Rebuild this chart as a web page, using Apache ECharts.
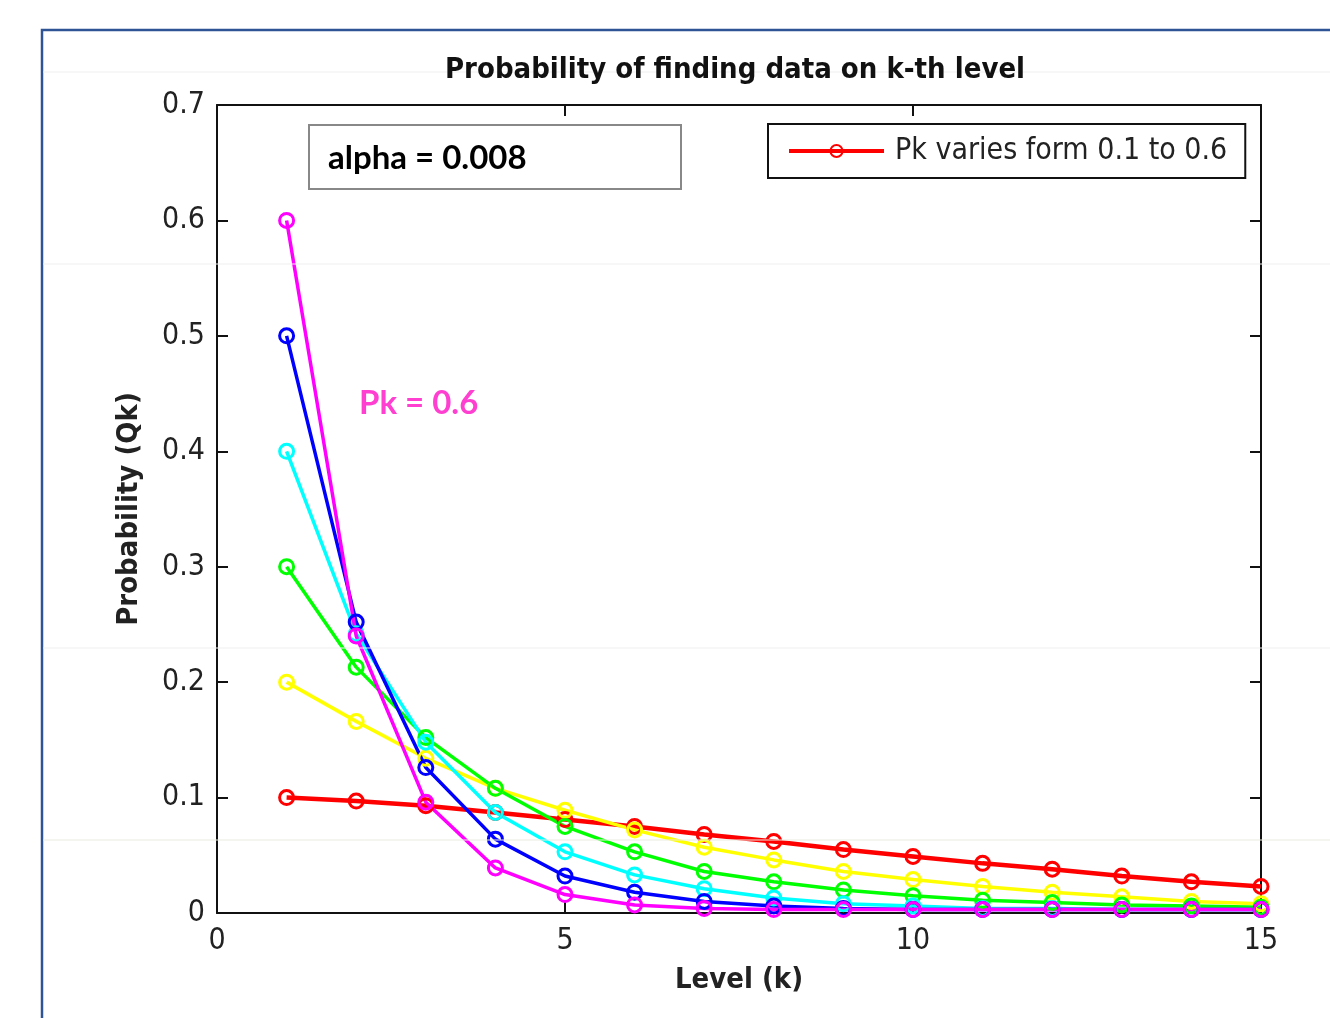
<!DOCTYPE html>
<html>
<head>
<meta charset="utf-8">
<script src="https://cdn.jsdelivr.net/npm/echarts@6/dist/echarts.min.js"></script>
<style>
  html, body { margin: 0; padding: 0; background: #fff; }
  #main { width: 1330px; height: 1018px; }
</style>
</head>
<body>
<div id="main"></div>
<script>
  // level k on the x axis
  var levels = [1, 2, 3, 4, 5, 6, 7, 8, 9, 10, 11, 12, 13, 14, 15];

  // Qk, one array per Pk
  var pk01 = [0.100, 0.097, 0.093, 0.087, 0.081, 0.075, 0.068, 0.062, 0.055, 0.049, 0.043, 0.038, 0.032, 0.027, 0.023];
  var pk02 = [0.200, 0.166, 0.134, 0.108, 0.089, 0.072, 0.057, 0.046, 0.036, 0.029, 0.023, 0.018, 0.014, 0.010, 0.008];
  var pk03 = [0.300, 0.213, 0.152, 0.108, 0.075, 0.053, 0.036, 0.027, 0.020, 0.015, 0.011, 0.009, 0.007, 0.006, 0.005];
  var pk04 = [0.400, 0.242, 0.148, 0.087, 0.053, 0.033, 0.021, 0.013, 0.008, 0.006, 0.004, 0.004, 0.003, 0.003, 0.003];
  var pk05 = [0.500, 0.252, 0.126, 0.064, 0.032, 0.018, 0.010, 0.006, 0.004, 0.003, 0.003, 0.003, 0.003, 0.003, 0.003];
  var pk06 = [0.600, 0.240, 0.096, 0.039, 0.016, 0.007, 0.004, 0.003, 0.003, 0.003, 0.003, 0.003, 0.003, 0.003, 0.003];

  var legendName = 'Pk varies form 0.1 to 0.6';
  var titleText = 'Probability of finding data on k-th level';
  var xName = 'Level (k)';
  var yName = 'Probability (Qk)';
  var alphaText = 'alpha = 0.008';
  var noteText = 'Pk = 0.6';

  var narrow = '"DejaVu Sans Condensed", "Liberation Sans Narrow", "DejaVu Sans", sans-serif';
  var boxFont = 'Lato, "Open Sans", sans-serif';

  function pairs(values) {
    var out = [];
    for (var i = 0; i < levels.length; i++) {
      out.push([levels[i], values[i]]);
    }
    return out;
  }

  // hollow circle markers, the line shows through them
  function serie(name, values, color, width) {
    return {
      name: name,
      type: 'line',
      data: pairs(values),
      symbol: 'circle',
      symbolSize: 14,
      showSymbol: true,
      animation: false,
      lineStyle: { color: color, width: width },
      itemStyle: { color: 'rgba(255,255,255,0)', borderColor: color, borderWidth: 3 }
    };
  }

  // box axes, MATLAB style: line on all four sides, ticks pointing in
  var axisLine = { show: true, onZero: false, lineStyle: { color: '#111', width: 2 } };
  var tickIn = { show: true, inside: true, length: 11, lineStyle: { color: '#111', width: 2 } };

  var option = {
    backgroundColor: '#fff',
    animation: false,
    grid: { left: 217, top: 105, right: 69, bottom: 105, containLabel: false },
    legend: {
      data: [legendName],
      left: 768,
      top: 124,
      padding: [12, 18, 12, 19],
      itemWidth: 95,
      itemHeight: 15,
      backgroundColor: '#fff',
      borderColor: '#111',
      borderWidth: 2,
      borderRadius: 0,
      lineStyle: { width: 4 },
      textStyle: { fontFamily: narrow, fontSize: 30, color: '#222', padding: [0, 0, 0, 6] }
    },
    xAxis: [{
      type: 'value',
      position: 'bottom',
      min: 0, max: 15, interval: 5,
      axisLine: axisLine,
      axisTick: tickIn,
      splitLine: { show: false },
      axisLabel: { fontFamily: narrow, fontSize: 30, color: '#222', margin: 13 },
      name: xName,
      nameLocation: 'middle',
      nameGap: 53,
      nameTextStyle: { fontFamily: narrow, fontSize: 29, fontWeight: 'bold', color: '#222' }
    }, {
      type: 'value',
      position: 'top',
      min: 0, max: 15, interval: 5,
      axisLine: axisLine,
      axisTick: tickIn,
      splitLine: { show: false },
      axisLabel: { show: false }
    }],
    yAxis: [{
      type: 'value',
      position: 'left',
      min: 0, max: 0.7, interval: 0.1,
      axisLine: axisLine,
      axisTick: tickIn,
      splitLine: { show: false },
      axisLabel: { fontFamily: narrow, fontSize: 30, color: '#222', margin: 12 },
      name: yName,
      nameLocation: 'middle',
      nameGap: 73,
      nameTextStyle: { fontFamily: narrow, fontSize: 29, fontWeight: 'bold', color: '#222' }
    }, {
      type: 'value',
      position: 'right',
      min: 0, max: 0.7, interval: 0.1,
      axisLine: axisLine,
      axisTick: tickIn,
      splitLine: { show: false },
      axisLabel: { show: false }
    }],
    series: [
      serie(legendName, pk01, '#ff0000', 4.5),
      serie('Pk = 0.2', pk02, '#ffff00', 3.5),
      serie('Pk = 0.3', pk03, '#00ff00', 3.5),
      serie('Pk = 0.4', pk04, '#00ffff', 3.5),
      serie('Pk = 0.5', pk05, '#0000ff', 3.5),
      serie('Pk = 0.6', pk06, '#ff00ff', 3.5)
    ],
    graphic: [
      // outer frame of the slide
      { type: 'polyline', z: 100, silent: true,
        shape: { points: [[42, 1018], [42, 30], [1330, 30]] },
        style: { stroke: '#2f5496', lineWidth: 2.5, fill: null } },
      // faint scan lines across the picture
      { type: 'line', z: 100, silent: true, shape: { x1: 43, y1: 72, x2: 1330, y2: 72 }, style: { stroke: '#efefef', lineWidth: 1 } },
      { type: 'line', z: 100, silent: true, shape: { x1: 43, y1: 264, x2: 1330, y2: 264 }, style: { stroke: '#efefef', lineWidth: 1 } },
      { type: 'line', z: 100, silent: true, shape: { x1: 43, y1: 648, x2: 1330, y2: 648 }, style: { stroke: '#efefef', lineWidth: 1 } },
      { type: 'line', z: 100, silent: true, shape: { x1: 43, y1: 840, x2: 1330, y2: 840 }, style: { stroke: '#ebebe0', lineWidth: 1 } },
      // title
      { type: 'text', z: 100, x: 735, y: 70,
        style: { text: titleText, font: 'bold 29px ' + narrow, fill: '#111', align: 'center', verticalAlign: 'middle' } },
      // alpha box
      { type: 'rect', z: 100, shape: { x: 309, y: 125, width: 372, height: 64 },
        style: { fill: '#fff', stroke: '#888', lineWidth: 2 } },
      { type: 'text', z: 101, x: 328, y: 158,
        style: { text: alphaText, font: 'bold 33px ' + boxFont, fill: '#000', align: 'left', verticalAlign: 'middle' } },
      // note next to the steepest curve
      { type: 'text', z: 100, x: 359, y: 403,
        style: { text: noteText, font: 'bold 33px ' + boxFont, fill: '#ff3fd0', align: 'left', verticalAlign: 'middle' } }
    ]
  };

  var myChart = echarts.init(document.getElementById('main'));
  myChart.setOption(option);
</script>
</body>
</html>
